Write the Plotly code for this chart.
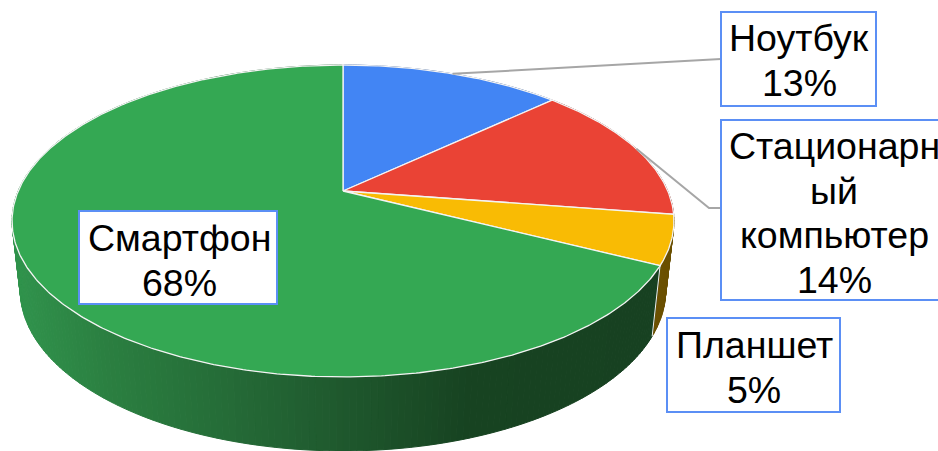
import math
import plotly.graph_objects as go

# Data
categories = ["Ноутбук", "Стационарный компьютер", "Планшет", "Смартфон"]
values = [13.0, 14.4, 5.1, 67.5]
top_colors = ["#4285F4", "#EA4335", "#F9BB04", "#34A853"]
side_colors = ["#1F4A8F", "#8A281F", "#6B5000", None]
label_lines = [["Ноутбук"], ["Стационарн", "ый", "компьютер"], ["Планшет"], ["Смартфон"]]

# Projection of the disc (pixel-based axes)
CX, CY = 343.0, 191.0
A, B, K = 324.8, 150.2, 0.1923
SX, SY, DY = 0.975, 1.03, 68.4


def rim(t):
    d = 1 + K * math.cos(t)
    return CX + A * math.sin(t) / d, CY - B * math.cos(t) / d


def low(t):
    x, y = rim(t)
    return CX + SX * (x - CX), CY + DY + SY * (y - CY)


GREEN_STOPS = [(0, (49, 150, 78)), (100, (43, 128, 65)), (300, (33, 95, 49)),
               (470, (23, 67, 33)), (938, (22, 62, 32))]


def green_at(x):
    for (x0, c0), (x1, c1) in zip(GREEN_STOPS, GREEN_STOPS[1:]):
        if x <= x1:
            f = max(0.0, (x - x0) / (x1 - x0))
            return "rgb(%d,%d,%d)" % tuple(round(a + f * (b - a)) for a, b in zip(c0, c1))
    return "rgb(22,62,32)"


total = sum(values)
edges = [0.0]
for v in values:
    edges.append(edges[-1] + v / total * 2 * math.pi)

fig = go.Figure()


def poly(xs, ys, fill, line=None, width=1):
    fig.add_trace(go.Scatter(x=xs, y=ys, mode="lines", fill="toself", fillcolor=fill,
                             line=dict(color=line or fill, width=width),
                             hoverinfo="skip", showlegend=False))


def seg(xs, ys, color, width):
    fig.add_trace(go.Scatter(x=xs, y=ys, mode="lines", line=dict(color=color, width=width),
                             hoverinfo="skip", showlegend=False))


# Side wall, strip by strip
for i in range(len(values)):
    n = max(2, int((edges[i + 1] - edges[i]) / math.radians(1.0)))
    for j in range(n):
        t0 = edges[i] + (edges[i + 1] - edges[i]) * j / n
        t1 = edges[i] + (edges[i + 1] - edges[i]) * (j + 1) / n
        a, b, c, d = rim(t0), rim(t1), low(t1), low(t0)
        col = side_colors[i] or green_at((a[0] + b[0]) / 2)
        poly([a[0], b[0], c[0], d[0], a[0]], [a[1], b[1], c[1], d[1], a[1]], col)

# Seam between the yellow and green walls
a, d = rim(edges[3]), low(edges[3])
seg([a[0], d[0]], [a[1], d[1]], "#F2F2F2", 1)

# Top surface
for i in range(len(values)):
    n = max(8, int((edges[i + 1] - edges[i]) / math.radians(0.5)))
    pts = [rim(edges[i] + (edges[i + 1] - edges[i]) * j / n) for j in range(n + 1)]
    xs = [CX] + [p[0] for p in pts] + [CX]
    ys = [CY] + [p[1] for p in pts] + [CY]
    poly(xs, ys, top_colors[i], "#F4F4F4", 1.3)

# Leader lines from slice mid-angles
for i, elbow in ((0, (710, 59, 721)), (1, (709, 208, 721))):
    m = rim((edges[i] + edges[i + 1]) / 2)
    seg([m[0], elbow[0], elbow[2]], [m[1], elbow[1], elbow[1]], "#A6A6A6", 2)

# Label boxes and text
boxes = [(721, 12, 876, 106), (721, 120, 948, 300), (667, 318, 840, 412), (79, 211, 277, 304)]
centers = [799, 834, 754, 179]
first_line_y = [38, 146, 345, 238]
LINE = 44.5

shapes = []
annots = []
for i, (x0, y0, x1, y1) in enumerate(boxes):
    shapes.append(dict(type="rect", xref="x", yref="y", x0=x0, y0=y0, x1=x1, y1=y1,
                       fillcolor="white", line=dict(color="#5B8FF5", width=2), layer="above"))
    lines = label_lines[i] + ["%d%%" % round(values[i])]
    for k, text in enumerate(lines):
        annots.append(dict(x=centers[i], y=first_line_y[i] + k * LINE, xref="x", yref="y",
                           text=text, showarrow=False, xanchor="center", yanchor="middle",
                           font=dict(family="Liberation Sans, Arial, sans-serif", size=37.5,
                                     color="#000000")))

fig.update_layout(
    width=938, height=451, margin=dict(l=0, r=0, t=0, b=0),
    paper_bgcolor="white", plot_bgcolor="white", showlegend=False,
    xaxis=dict(range=[0, 938], visible=False, fixedrange=True),
    yaxis=dict(range=[451, 0], visible=False, fixedrange=True),
    shapes=shapes, annotations=annots,
)

fig.write_html("out.html", config={"displayModeBar": False},
               post_script="document.body.style.margin='0';document.body.style.overflow='hidden';")
